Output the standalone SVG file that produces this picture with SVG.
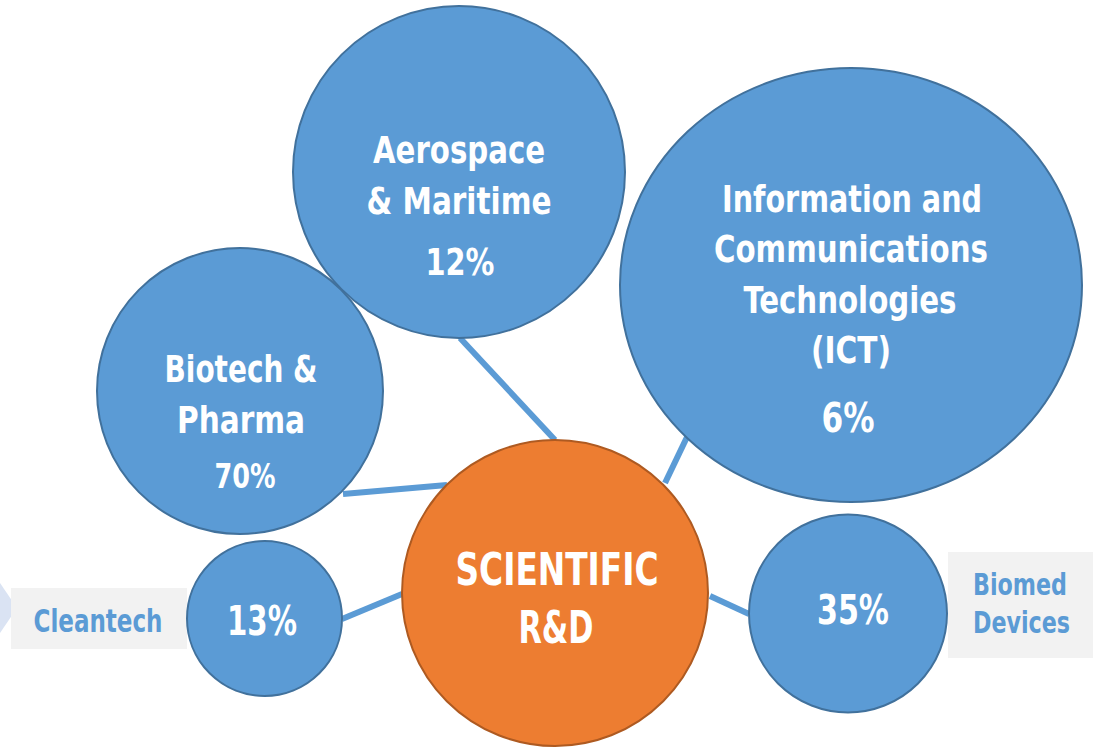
<svg xmlns="http://www.w3.org/2000/svg" width="1096" height="756" viewBox="0 0 1096 756">
<style>
.node{fill:#5b9bd5;stroke:#41719c;stroke-width:2}
.core{fill:#ed7d31;stroke:#ae5a21;stroke-width:2}
.conn{stroke:#5b9bd5;stroke-width:6;fill:none}
.t{font-family:"Liberation Sans Narrow","DejaVu Sans Condensed","Liberation Sans",sans-serif;font-weight:bold;fill:#ffffff;text-anchor:middle}
.lbl{font-family:"Liberation Sans Narrow","DejaVu Sans Condensed","Liberation Sans",sans-serif;font-weight:bold;fill:#5b9bd5;text-anchor:middle}
.box{fill:#f2f2f2}
</style>
<rect width="1096" height="756" fill="#ffffff"/>
<polygon points="0,583 17,608 0,633" fill="#dae3f3"/>
<g id="connectors">
<line class="conn" x1="460" y1="338" x2="555" y2="440"/>
<line class="conn" x1="343" y1="494" x2="447" y2="485"/>
<line class="conn" x1="688" y1="435" x2="665" y2="483"/>
<line class="conn" x1="342" y1="619" x2="402" y2="594"/>
<line class="conn" x1="710" y1="596" x2="749" y2="614"/>
</g>
<g id="aerospace">
<circle class="node" cx="459" cy="172" r="166"/>
<text class="t" x="459" y="163" font-size="38" textLength="172" lengthAdjust="spacingAndGlyphs">Aerospace</text>
<text class="t" x="459" y="214" font-size="38" textLength="185" lengthAdjust="spacingAndGlyphs">&amp; Maritime</text>
<text class="t" x="460" y="275" font-size="38" textLength="69" lengthAdjust="spacingAndGlyphs">12%</text>
</g>
<g id="ict">
<ellipse class="node" cx="851" cy="285" rx="231" ry="217"/>
<text class="t" x="852" y="212" font-size="38" textLength="260" lengthAdjust="spacingAndGlyphs">Information and</text>
<text class="t" x="851" y="262" font-size="38" textLength="274" lengthAdjust="spacingAndGlyphs">Communications</text>
<text class="t" x="850" y="313" font-size="38" textLength="213" lengthAdjust="spacingAndGlyphs">Technologies</text>
<text class="t" x="851" y="363" font-size="38" textLength="80" lengthAdjust="spacingAndGlyphs">(ICT)</text>
<text class="t" x="848" y="432" font-size="41" textLength="53" lengthAdjust="spacingAndGlyphs">6%</text>
</g>
<g id="biotech">
<circle class="node" cx="240" cy="391" r="143"/>
<text class="t" x="241" y="382" font-size="38" textLength="153" lengthAdjust="spacingAndGlyphs">Biotech &amp;</text>
<text class="t" x="241" y="433" font-size="38" textLength="128" lengthAdjust="spacingAndGlyphs">Pharma</text>
<text class="t" x="245" y="488" font-size="33" textLength="61" lengthAdjust="spacingAndGlyphs">70%</text>
</g>
<g id="scientific">
<circle class="core" cx="555" cy="593" r="153"/>
<text class="t" x="557" y="585" font-size="45" textLength="203" lengthAdjust="spacingAndGlyphs">SCIENTIFIC</text>
<text class="t" x="556" y="643" font-size="45" textLength="75" lengthAdjust="spacingAndGlyphs">R&amp;D</text>
</g>
<g id="cleantech">
<rect class="box" x="11" y="588" width="176" height="61"/>
<text class="lbl" x="98" y="632" font-size="32" textLength="129" lengthAdjust="spacingAndGlyphs">Cleantech</text>
<circle class="node" cx="264.5" cy="618.5" r="77.5"/>
<text class="t" x="262" y="635" font-size="40" textLength="70" lengthAdjust="spacingAndGlyphs">13%</text>
</g>
<g id="biomed">
<rect class="box" x="948" y="552" width="145" height="106"/>
<text class="lbl" x="1020" y="595" font-size="31" textLength="94" lengthAdjust="spacingAndGlyphs">Biomed</text>
<text class="lbl" x="1021.5" y="633" font-size="31" textLength="97" lengthAdjust="spacingAndGlyphs">Devices</text>
<circle class="node" cx="848" cy="613.5" r="99"/>
<text class="t" x="853" y="624" font-size="40" textLength="72" lengthAdjust="spacingAndGlyphs">35%</text>
</g>
</svg>
